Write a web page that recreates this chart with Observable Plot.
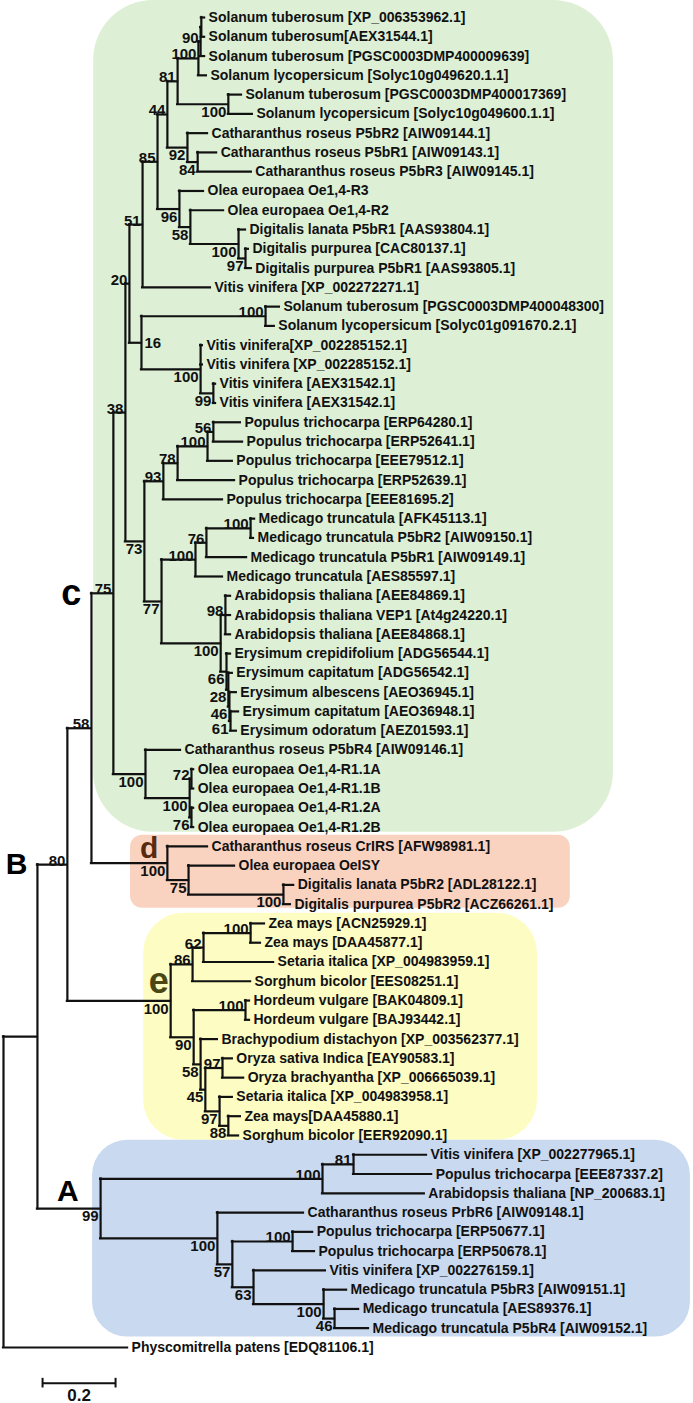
<!DOCTYPE html>
<html><head><meta charset="utf-8">
<script src="https://cdn.jsdelivr.net/npm/d3@7"></script>
<script src="https://cdn.jsdelivr.net/npm/@observablehq/plot@0.6"></script>
<style>
html,body{margin:0;padding:0;background:#fff;}
#chart svg{display:block;}
</style></head><body><div id="chart"></div>
<script>
// ---------- internal nodes: id, parent, depth from root (substitutions/site), bootstrap ----------
const nodeIds = ["root","BA","B","N58","C","N38","N20","N51","N85","N44","N81","S4","S3","S2","S56","N92","N84","N96","N58o","Dig","N97","N16","Sol2","Vit","Vit99","N73","N93","N78","Pop100","N56","N77","Med100","N76","Med27","Bras","Arab","Ery","E2","E3","E4","P5","OleaR1","O1","O2","d","d75","dDig","e","e86","e62","Zea","e90","Hord","e58","e45","Ory","e97b","e88","A","A1","A81","A2","A57","APop","A63","AMed","A46"];
const nodeParents = [null,"root","BA","B","N58","C","N38","N20","N51","N85","N44","N81","S4","S3","N81","N44","N92","N85","N96","N58o","Dig","N20","N16","N16","Vit","N38","N73","N93","N78","Pop100","N73","N77","Med100","N76","N77","Bras","Bras","Ery","E2","E3","C","P5","OleaR1","OleaR1","N58","d","d75","B","e","e86","e62","e","e90","e90","e58","e45","e45","e97b","BA","A","A1","A","A2","A57","A57","A63","AMed"];
const nodeDepths = [0,0.093,0.175,0.241,0.301,0.334,0.345,0.381,0.422,0.449,0.477,0.534,0.540,0.542,0.616,0.504,0.532,0.482,0.512,0.644,0.663,0.378,0.718,0.540,0.575,0.386,0.438,0.477,0.559,0.575,0.433,0.526,0.556,0.677,0.595,0.608,0.611,0.616,0.619,0.622,0.389,0.510,0.515,0.515,0.449,0.507,0.767,0.458,0.518,0.548,0.677,0.521,0.663,0.540,0.553,0.600,0.592,0.616,0.266,0.874,0.959,0.586,0.627,0.792,0.685,0.877,0.907];
const nodeSupport = ["","","80","58","75","38","20","51","85","44","81","100","90","","100","92","84","96","58","100","97","16","100","100","99","73","93","78","100","56","77","100","76","100","100","98","66","28","46","61","100","100","72","76","100","75","100","100","86","62","100","90","100","58","45","97","97","88","99","100","81","100","57","100","63","100","46"];

// ---------- leaves ----------
const leafNames = [
"Solanum tuberosum [XP_006353962.1]","Solanum tuberosum[AEX31544.1]","Solanum tuberosum [PGSC0003DMP400009639]","Solanum lycopersicum [Solyc10g049620.1.1]",
"Solanum tuberosum [PGSC0003DMP400017369]","Solanum lycopersicum [Solyc10g049600.1.1]","Catharanthus roseus P5bR2 [AIW09144.1]","Catharanthus roseus P5bR1 [AIW09143.1]",
"Catharanthus roseus P5bR3 [AIW09145.1]","Olea europaea Oe1,4-R3","Olea europaea Oe1,4-R2","Digitalis lanata P5bR1 [AAS93804.1]",
"Digitalis purpurea [CAC80137.1]","Digitalis purpurea P5bR1 [AAS93805.1]","Vitis vinifera [XP_002272271.1]","Solanum tuberosum [PGSC0003DMP400048300]",
"Solanum lycopersicum [Solyc01g091670.2.1]","Vitis vinifera[XP_002285152.1]","Vitis vinifera [XP_002285152.1]","Vitis vinifera [AEX31542.1]",
"Vitis vinifera [AEX31542.1]","Populus trichocarpa [ERP64280.1]","Populus trichocarpa [ERP52641.1]","Populus trichocarpa [EEE79512.1]",
"Populus trichocarpa [ERP52639.1]","Populus trichocarpa [EEE81695.2]","Medicago truncatula [AFK45113.1]","Medicago truncatula P5bR2 [AIW09150.1]",
"Medicago truncatula P5bR1 [AIW09149.1]","Medicago truncatula [AES85597.1]","Arabidopsis thaliana [AEE84869.1]","Arabidopsis thaliana VEP1 [At4g24220.1]",
"Arabidopsis thaliana [AEE84868.1]","Erysimum crepidifolium [ADG56544.1]","Erysimum capitatum [ADG56542.1]","Erysimum albescens [AEO36945.1]",
"Erysimum capitatum [AEO36948.1]","Erysimum odoratum [AEZ01593.1]","Catharanthus roseus P5bR4 [AIW09146.1]","Olea europaea Oe1,4-R1.1A",
"Olea europaea Oe1,4-R1.1B","Olea europaea Oe1,4-R1.2A","Olea europaea Oe1,4-R1.2B","Catharanthus roseus CrIRS [AFW98981.1]",
"Olea europaea OeISY","Digitalis lanata P5bR2 [ADL28122.1]","Digitalis purpurea P5bR2 [ACZ66261.1]","Zea mays [ACN25929.1]",
"Zea mays [DAA45877.1]","Setaria italica [XP_004983959.1]","Sorghum bicolor [EES08251.1]","Hordeum vulgare [BAK04809.1]",
"Hordeum vulgare [BAJ93442.1]","Brachypodium distachyon [XP_003562377.1]","Oryza sativa Indica [EAY90583.1]","Oryza brachyantha [XP_006665039.1]",
"Setaria italica [XP_004983958.1]","Zea mays[DAA45880.1]","Sorghum bicolor [EER92090.1]","Vitis vinifera [XP_002277965.1]",
"Populus trichocarpa [EEE87337.2]","Arabidopsis thaliana [NP_200683.1]","Catharanthus roseus PrbR6 [AIW09148.1]","Populus trichocarpa [ERP50677.1]",
"Populus trichocarpa [ERP50678.1]","Vitis vinifera [XP_002276159.1]","Medicago truncatula P5bR3 [AIW09151.1]","Medicago truncatula [AES89376.1]",
"Medicago truncatula P5bR4 [AIW09152.1]","Physcomitrella patens [EDQ81106.1]"];
const leafParents = ["S2","S2","S3","S4","S56","S56","N92","N84","N84","N96","N58o","Dig","N97","N97","N51","Sol2","Sol2","Vit","Vit","Vit99","Vit99","N56","N56","Pop100","N78","N93","Med27","Med27","N76","Med100","Arab","Arab","Arab","Ery","E2","E3","E4","E4","P5","O1","O1","O2","O2","d","d75","dDig","dDig","Zea","Zea","e62","e86","Hord","Hord","e58","Ory","Ory","e97b","e88","e88","A81","A81","A1","A2","APop","APop","A63","AMed","A46","A46","root"];
const leafDepths = [0.551,0.551,0.551,0.556,0.652,0.682,0.559,0.584,0.679,0.548,0.603,0.663,0.671,0.679,0.567,0.756,0.742,0.545,0.545,0.581,0.581,0.649,0.655,0.627,0.633,0.600,0.688,0.685,0.666,0.600,0.622,0.622,0.622,0.622,0.627,0.638,0.644,0.638,0.485,0.521,0.521,0.521,0.521,0.559,0.633,0.795,0.786,0.715,0.704,0.740,0.677,0.674,0.674,0.586,0.627,0.658,0.627,0.649,0.644,1.159,1.173,1.153,0.822,0.847,0.852,0.882,0.940,0.973,1.000,0.340];

// ---------- clade annotations ----------
const cladeLetters = ["c","d","e","B","A"];
const cladeNodes   = ["C","d","e","B","A"];
// highlighted clades: leaf-index span and depth span
const boxNames  = ["c","d","e","A"];
const boxLeafFrom = [-0.88, 42.43, 46.47, 58.25];
const boxLeafTo   = [42.27, 46.21, 58.25, 68.46];
const boxDepthFrom = [0.247, 0.348, 0.384, 0.244];
const boxDepthTo   = [1.671, 1.553, 1.463, 1.882];
const scaleBarLength = 0.2;

// ---------- styles / layout ----------
const boxFill = {c:"#ddf0d5", d:"#fad3c0", e:"#fdfcc3", A:"#c9d9ef"};
const boxRadius = {c:60, d:12, e:40, A:35};
const letterStyle = {
  c:{size:36, color:"#000", dx:-32, dy:0, anchor:"middle"},
  d:{size:30, color:"#5a2a10", dx:-9, dy:-5, anchor:"bottom"},
  e:{size:36, color:"#4a4714", dx:-2, dy:-8, anchor:"bottom"},
  B:{size:30, color:"#000", dx:-40, dy:0, anchor:"middle"},
  A:{size:30, color:"#000", dx:-22, dy:-8, anchor:"bottom"}
};
const belowLabels = new Set(["N96","N58o","Dig","N97","N73","N77","Vit","Vit99","N92","N84","S56","Bras","Ery","E2","E3","E4","P5","OleaR1","O2","d","d75","dDig","e","e90","e58","e45","e97b","e88","A","A57","A63","A2","AMed","A46"]);
const rightLabels = new Set(["N16"]);
const scaleBarAt = {depth:0.107, leaf:70.85};

// ---------- build tree ----------
const nodes = new Map();
nodeIds.forEach((id,i)=>nodes.set(id,{id,parent:nodeParents[i],depth:nodeDepths[i],support:nodeSupport[i],children:[],leaf:false}));
leafNames.forEach((name,i)=>nodes.set("leaf"+i,{id:"leaf"+i,name,parent:leafParents[i],depth:leafDepths[i],y:i,children:[],leaf:true}));
for (const n of nodes.values()) if (n.parent) nodes.get(n.parent).children.push(n);
function setY(n){ if(n.leaf) return n.y; const ys=n.children.map(setY); n.y=(d3.min(ys)+d3.max(ys))/2; return n.y; }
setY(nodes.get("root"));
const all = [...nodes.values()];
const internal = all.filter(n=>!n.leaf);
const leaves = all.filter(n=>n.leaf);
const hSegs = all.filter(n=>n.parent).map(n=>({y:n.y, x1:nodes.get(n.parent).depth, x2:n.depth}));
const vSegs = internal.map(n=>({x:n.depth, y1:d3.min(n.children,c=>c.y), y2:d3.max(n.children,c=>c.y)}));
const labeled = internal.filter(n=>n.support);
const lblAbove = labeled.filter(n=>!belowLabels.has(n.id)&&!rightLabels.has(n.id));
const lblBelow = labeled.filter(n=>belowLabels.has(n.id));
const lblRight = labeled.filter(n=>rightLabels.has(n.id));
const boxes = boxNames.map((k,i)=>({k,x1:boxDepthFrom[i],x2:boxDepthTo[i],y1:boxLeafFrom[i],y2:boxLeafTo[i]}));

const line = {stroke:"#111", strokeWidth:2.2, strokeLinecap:"square"};
const marks = [];
for (const b of boxes) marks.push(Plot.rect([b],{x1:"x1",x2:"x2",y1:"y1",y2:"y2",fill:boxFill[b.k],rx:boxRadius[b.k]}));
marks.push(
  Plot.ruleY(hSegs,{y:"y",x1:"x1",x2:"x2",...line}),
  Plot.ruleX(vSegs,{x:"x",y1:"y1",y2:"y2",...line}),
  Plot.text(leaves,{x:"depth",y:"y",text:"name",dx:4,textAnchor:"start",lineAnchor:"middle",fontSize:14,fontWeight:"bold",fill:"#111"}),
  Plot.text(lblAbove,{x:"depth",y:"y",text:"support",dx:-2,dy:1,textAnchor:"end",lineAnchor:"bottom",fontSize:15,fontWeight:"bold",fill:"#111"}),
  Plot.text(lblBelow,{x:"depth",y:"y",text:"support",dx:-2,dy:2,textAnchor:"end",lineAnchor:"top",fontSize:15,fontWeight:"bold",fill:"#111"}),
  Plot.text(lblRight,{x:"depth",y:"y",text:"support",dx:3,textAnchor:"start",lineAnchor:"middle",fontSize:15,fontWeight:"bold",fill:"#111"})
);
cladeLetters.forEach((L,i)=>{
  const n = nodes.get(cladeNodes[i]); const s = letterStyle[L];
  marks.push(Plot.text([n],{x:"depth",y:"y",text:()=>L,dx:s.dx,dy:s.dy,textAnchor:"end",lineAnchor:s.anchor,fontSize:s.size,fontWeight:"bold",fill:s.color}));
});
const sb = [{x1:scaleBarAt.depth,x2:scaleBarAt.depth+scaleBarLength,y:scaleBarAt.leaf}];
marks.push(
  Plot.ruleY(sb,{y:"y",x1:"x1",x2:"x2",stroke:"#111",strokeWidth:2}),
  Plot.ruleX([scaleBarAt.depth,scaleBarAt.depth+scaleBarLength],{x:d=>d,y1:scaleBarAt.leaf-0.25,y2:scaleBarAt.leaf+0.25,stroke:"#111",strokeWidth:2}),
  Plot.text(sb,{x:d=>(d.x1+d.x2)/2,y:"y",text:()=>String(scaleBarLength),dy:6,lineAnchor:"top",fontSize:17,fontWeight:"bold",fill:"#111"})
);

const chart = Plot.plot({
  width:693, height:1403, margin:0,
  x:{domain:[0,1], range:[3,368], axis:null},
  y:{type:"linear", domain:[0,leafNames.length-1], range:[17,1347], axis:null},
  style:{fontFamily:"'Liberation Sans', Arial, Helvetica, sans-serif", background:"#fff", overflow:"visible"},
  marks
});
document.getElementById("chart").append(chart);
</script></body></html>
